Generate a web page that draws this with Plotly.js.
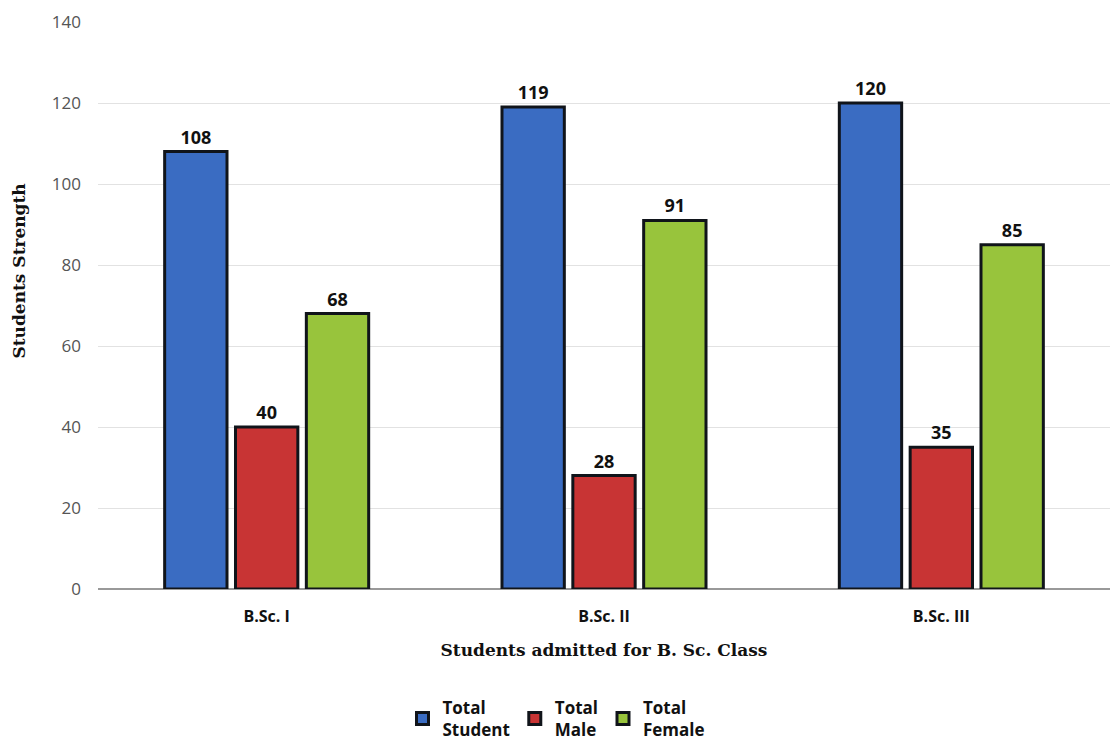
<!DOCTYPE html>
<html>
<head>
<meta charset="utf-8">
<script src="https://cdn.plot.ly/plotly-3.0.1.min.js"></script>
<style>html,body{margin:0;padding:0;background:#fff;}#chart{width:1113px;height:744px;}</style>
</head>
<body>
<div id="chart"></div>
<script>
const categories = ["B.Sc. I", "B.Sc. II", "B.Sc. III"];
const seriesNames = ["Total<br>Student", "Total<br>Male", "Total<br>Female"];
const totalStudent = [108, 119, 120];
const totalMale = [40, 28, 35];
const totalFemale = [68, 91, 85];
const yTicks = [0, 20, 40, 60, 80, 100, 120, 140];
const xTitle = "Students admitted for B. Sc. Class";
const yTitle = "Students Strength";

const colors = ["#3a6cc2", "#c83434", "#98c43c"];
const values = [totalStudent, totalMale, totalFemale];

const traces = values.map((v, i) => ({
  type: "bar",
  name: seriesNames[i],
  x: categories,
  y: v,
  text: v.map(String),
  textposition: "outside",
  cliponaxis: false,
  textfont: {family: "Open Sans, sans-serif", size: 18, color: "#111", weight: "bold"},
  marker: {color: colors[i], line: {color: "#10141a", width: 3}},
  hoverinfo: "x+y"
}));

const layout = {
  width: 1113, height: 744,
  margin: {l: 98, r: 3, t: 22, b: 155, autoexpand: false},
  paper_bgcolor: "#ffffff",
  plot_bgcolor: "#ffffff",
  barmode: "group",
  bargap: 0.37,
  bargroupgap: 0.12,
  showlegend: true,
  legend: {
    orientation: "h", xref: "container", x: 0.5, xanchor: "center", y: -0.178, yanchor: "top",
    font: {family: "Open Sans, sans-serif", size: 17, color: "#111", weight: "bold"},
    itemwidth: 30, tracegroupgap: 0
  },
  xaxis: {
    type: "category", automargin: false,
    tickfont: {family: "Open Sans, sans-serif", size: 16, color: "#111", weight: "bold"},
    ticks: "", showline: false, showgrid: false, ticklabelstandoff: 16,
    title: {text: xTitle, standoff: 18,
      font: {family: "DejaVu Serif, serif", size: 17, color: "#111", weight: "bold"}}
  },
  yaxis: {
    range: [0, 140], automargin: false,
    tickvals: yTicks,
    ticktext: yTicks.map(String),
    tickfont: {family: "Open Sans, sans-serif", size: 17, color: "#555"},
    showgrid: true, gridcolor: "#e2e2e2", gridwidth: 1,
    zeroline: true, zerolinecolor: "#999", zerolinewidth: 1.5,
    showline: false, ticks: "", ticklabelstandoff: 16
  },
  annotations: [{
    text: yTitle, textangle: -90, showarrow: false,
    xref: "paper", yref: "paper", x: -0.078, y: 0.56,
    xanchor: "center", yanchor: "middle",
    font: {family: "DejaVu Serif, serif", size: 17, color: "#111", weight: "bold"}
  }]
};

Plotly.newPlot("chart", traces, layout, {displayModeBar: false, responsive: false});
</script>
</body>
</html>
